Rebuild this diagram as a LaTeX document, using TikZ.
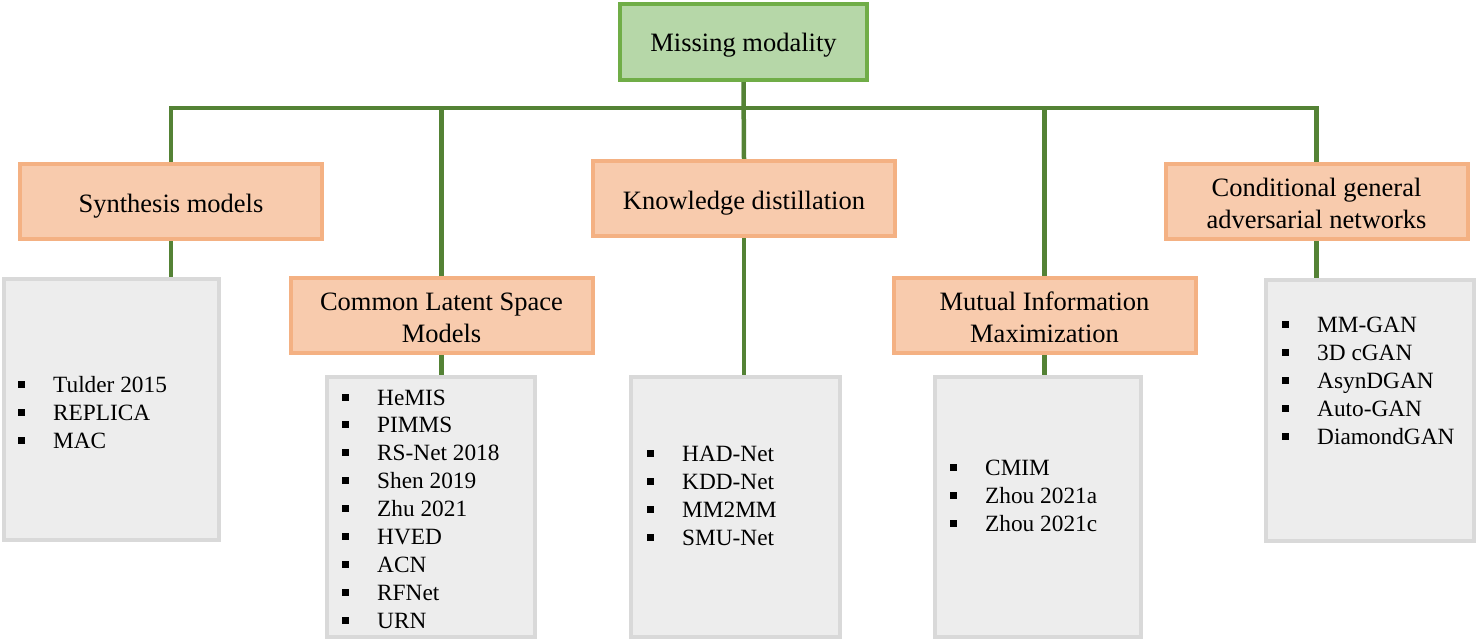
\documentclass[tikz,border=0pt]{standalone}
\usepackage{fontspec}
\setmainfont{Liberation Serif}
\usetikzlibrary{backgrounds}
\definecolor{lineG}{HTML}{548235}
\definecolor{rootF}{HTML}{B6D7A8}
\definecolor{rootD}{HTML}{70AD47}
\definecolor{catF}{HTML}{F8CBAD}
\definecolor{catD}{HTML}{F4B183}
\definecolor{listF}{HTML}{EDEDED}
\definecolor{listD}{HTML}{D9D9D9}
\newcommand\mybullet{\makebox[35pt][l]{\raisebox{4.5pt}{\rule{7pt}{7pt}}}}
\tikzset{
 rootbox/.style={draw=rootD, fill=rootF, line width=4pt, minimum width=247pt, minimum height=76pt, inner sep=0pt},
 catbox/.style={draw=catD, fill=catF, line width=4pt, minimum width=302pt, minimum height=75pt, inner sep=0pt},
 captext/.style={inner sep=0pt, align=center, font=\fontsize{26.5}{32}\selectfont},
 listbox/.style={draw=listD, fill=listF, line width=4pt, inner sep=0pt},
 itemtext/.style={anchor=base west, inner sep=0pt, font=\fontsize{23.3}{28}\selectfont},
 conn/.style={draw=lineG, line width=4.5pt},
}
\begin{document}
\begin{tikzpicture}[x=1pt,y=-1pt]
\useasboundingbox (0,0) rectangle (1478,640);
% root and categories
\node[rootbox] (root) at (743.5,42) {};
\node[catbox] (syn) at (171,201.5) {};
\node[catbox] (cls) at (441.5,315.5) {};
\node[catbox] (kd) at (744,198.5) {};
\node[catbox] (mim) at (1044.5,315) {};
\node[catbox] (cgan) at (1316.5,201.5) {};
\node[captext] (rootT) at ([yshift=-3pt]root.center) {Missing modality};
\node[captext] (synT) at ([yshift=-5pt]syn.center) {Synthesis models};
\node[captext] (clsT) at ([yshift=-2pt]cls.center) {Common Latent Space\\Models};
\node[captext] (kdT) at ([yshift=-5pt]kd.center) {Knowledge distillation};
\node[captext] (mimT) at ([yshift=-2pt]mim.center) {Mutual Information\\Maximization};
\node[captext] (cganT) at ([yshift=-1.5pt]cgan.center) {Conditional general\\adversarial networks};
% list boxes
\node[listbox, minimum width=215pt, minimum height=261pt] (g1) at (111.5,409.5) {};
\node[listbox, minimum width=208pt, minimum height=260pt] (g2) at (431,507) {};
\node[listbox, minimum width=209pt, minimum height=260pt] (g3) at (735.5,507) {};
\node[listbox, minimum width=206pt, minimum height=260pt] (g4) at (1038,507) {};
\node[listbox, minimum width=208pt, minimum height=261pt] (g5) at (1370,410.5) {};
% items
\foreach \t [count=\i] in {Tulder 2015, REPLICA, MAC}
  \node[itemtext] (a\i) at (18,{392+28*(\i-1)}) {\mybullet\t};
\foreach \t [count=\i] in {HeMIS, PIMMS, RS-Net 2018, Shen 2019, Zhu 2021, HVED, ACN, RFNet, URN}
  \node[itemtext] (b\i) at (342,{405+27.9*(\i-1)}) {\mybullet\t};
\foreach \t [count=\i] in {HAD-Net, KDD-Net, MM2MM, SMU-Net}
  \node[itemtext] (c\i) at (647,{461+28*(\i-1)}) {\mybullet\t};
\foreach \t [count=\i] in {CMIM, Zhou 2021a, Zhou 2021c}
  \node[itemtext] (d\i) at (950,{475+28*(\i-1)}) {\mybullet\t};
\foreach \t [count=\i] in {MM-GAN, 3D cGAN, AsynDGAN, Auto-GAN, DiamondGAN}
  \node[itemtext] (e\i) at (1282,{332+28*(\i-1)}) {\mybullet\t};
% connectors
\coordinate (barL) at (171,108);
\coordinate (barR) at (1316.5,108);
\begin{pgfonlayer}{background}
\draw[conn] (root.south) -- (kd.north);
\draw[conn] (syn.north) -- (barL) -- (barR) -- (cgan.north);
\draw[conn] (cls.north) -- (cls.north |- barL);
\draw[conn] (mim.north) -- (mim.north |- barL);
\draw[conn] (syn.south) -- (syn.south |- g1.north);
\draw[conn] (cls.south) -- (cls.south |- g2.north);
\draw[conn] (kd.south) -- (kd.south |- g3.north);
\draw[conn] (mim.south) -- (mim.south |- g4.north);
\draw[conn] (cgan.south) -- (cgan.south |- g5.north);
\end{pgfonlayer}
\end{tikzpicture}
\end{document}
